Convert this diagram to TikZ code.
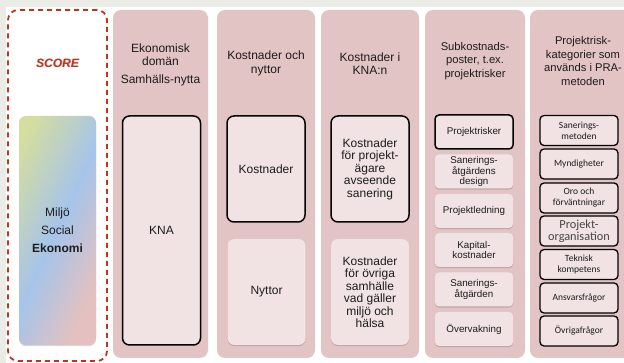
\documentclass[tikz,border=0pt]{standalone}
\usepackage{fontspec}
\setmainfont{Liberation Sans}
\newfontfamily\calfont{Carlito}
\usetikzlibrary{shadows}
\definecolor{bgrey}{RGB}{236,236,231}
\definecolor{colfill}{RGB}{226,196,196}
\definecolor{boxfill}{RGB}{241,227,227}
\definecolor{scorered}{RGB}{192,52,30}
\definecolor{gyell}{RGB}{213,221,160}
\definecolor{gblue}{RGB}{166,196,234}
\definecolor{gpink}{RGB}{228,193,192}
\definecolor{txt}{RGB}{28,28,28}
\definecolor{orggrey}{RGB}{70,70,70}
\begin{document}
\begin{tikzpicture}[x=1pt,y=-1pt,
  col/.style={fill=colfill, rounded corners=8pt},
  ttl/.style={text=txt, align=center, font=\fontsize{12}{13.5}\selectfont, inner sep=0pt},
  ttlsmall/.style={text=txt, align=center, font=\fontsize{11.2}{13.5}\selectfont, inner sep=0pt},
  bigbox/.style={fill=boxfill, rounded corners=7pt, minimum width=78pt, align=center,
     text=txt, font=\fontsize{12}{12.5}\selectfont, inner sep=0pt},
  strong/.style={draw=black, line width=1.5pt},
  soft/.style={drop shadow={shadow xshift=0pt, shadow yshift=-1.2pt, opacity=0.15, fill=black}},
  sbox/.style={fill=boxfill, rounded corners=4pt, minimum width=78pt, minimum height=34pt,
     align=center, text=txt, font=\fontsize{9.8}{10.5}\selectfont, inner sep=0pt},
  pbox/.style={fill=boxfill, draw=black, line width=1.3pt, rounded corners=4pt,
     minimum width=78pt, minimum height=30pt, align=center, text=txt,
     font=\calfont\fontsize{9.5}{11}\selectfont, inner sep=0pt}
]
\useasboundingbox (0,0) rectangle (624,363);
\fill[bgrey] (0,0) rectangle (624,363);
\fill[white] (6,7) rectangle (624,363);

% columns
\path[col] (113,10) rectangle (208,358);
\path[col] (217,10) rectangle (315,358);
\path[col] (321,10) rectangle (419,358);
\path[col] (425,10) rectangle (525,358);
\path[col] (530,10) rectangle (632,358);

% SCORE column
\node[draw=scorered, line width=1.8pt, dash pattern=on 5pt off 4pt, rounded corners=10pt,
  minimum width=99pt, minimum height=351pt] (score) at (57.5,185.5) {};
\node[text=black!25, font=\fontsize{12}{12}\selectfont\bfseries\itshape, inner sep=0pt] (scoreshadow) at (58.3,63.8) {SCORE};
\node[text=scorered, font=\fontsize{12}{12}\selectfont\bfseries\itshape, inner sep=0pt] (scoretxt) at (57.5,63) {SCORE};

% gradient box
\fill[black, opacity=0.15, rounded corners=7pt] (19,117.2) rectangle (96,346.2);
\begin{scope}
  \clip[rounded corners=7pt] (19,116) rectangle (96,345);
  \begin{scope}[shift={(57.5,230.5)}, rotate=-25]
    \foreach \i in {0,...,59}{
      \pgfmathsetmacro{\s}{-90+3*\i}
      \pgfmathsetmacro{\t}{(\i+0.5)/60}
      \pgfmathsetmacro{\a}{max(0,min(100,(\t-0.12)/0.38*100))}
      \pgfmathsetmacro{\b}{max(0,min(100,(\t-0.5)/0.33*100))}
      \ifdim\t pt<0.5pt
        \colorlet{gc}{gblue!\a!gyell}
      \else
        \colorlet{gc}{gpink!\b!gblue}
      \fi
      \fill[gc] (\s,-140) rectangle ({\s+3.5},140);
    }
  \end{scope}
\end{scope}
\node[minimum width=77pt, minimum height=229pt, align=center, text=txt,
  font=\fontsize{12}{18}\selectfont, inner sep=0pt]
  (grad) at (57.5,230.5) {Miljö\\Social\\\textbf{Ekonomi}};

% column 1
\node[ttl] (t1a) at (160.5,54.5) {Ekonomisk\\domän};
\node[ttl] (t1b) at (160.5,80) {Samhälls-nytta};
\node[bigbox, strong, minimum height=229pt] (kna) at (161.5,230.5) {KNA};

% column 2
\node[ttl] (t2) at (266,63.5) {Kostnader och\\nyttor};
\node[bigbox, strong, minimum height=106pt] (kost) at (266,169) {Kostnader};
\node[bigbox, soft, minimum height=106pt] (nytt) at (266.5,292) {Nyttor};

% column 3
\node[ttl] (t3) at (370,63.5) {Kostnader i\\KNA:n};
\node[bigbox, strong, minimum height=106pt] (k3a) at (370,169) {Kostnader\\för projekt-\\ägare\\avseende\\sanering};
\node[bigbox, soft, minimum height=106pt] (k3b) at (370,292) {Kostnader\\för övriga\\samhälle\\vad gäller\\miljö och\\hälsa};

% column 4
\node[ttlsmall] (t4) at (475,61) {Subkostnads-\\poster, t.ex.\\projektrisker};
\node[sbox, strong] (s1) at (474,132) {Projektrisker};
\node[sbox, soft] (s2) at (474,171.5) {Sanerings-\\åtgärdens\\design};
\node[sbox, soft] (s3) at (474,211) {Projektledning};
\node[sbox, soft] (s4) at (474,250) {Kapital-\\kostnader};
\node[sbox, soft] (s5) at (474,289.5) {Sanerings-\\åtgärden};
\node[sbox, soft] (s6) at (474,329) {Övervakning};

% column 5
\node[ttlsmall] (t5) at (583,61) {Projektrisk-\\kategorier som\\används i PRA-\\metoden};
\node[pbox] (p1) at (579,130.5) {Sanerings-\\metoden};
\node[pbox] (p2) at (579,164) {Myndigheter};
\node[pbox] (p3) at (579,198) {Oro och\\förväntningar};
\node[pbox, text=orggrey, font=\calfont\fontsize{12.3}{12}\selectfont] (p4) at (579,231) {Projekt-\\organisation};
\node[pbox] (p5) at (579,264.5) {Teknisk\\kompetens};
\node[pbox] (p6) at (579,298) {Ansvarsfrågor};
\node[pbox] (p7) at (579,331) {Övrigafrågor};
\end{tikzpicture}
\end{document}
